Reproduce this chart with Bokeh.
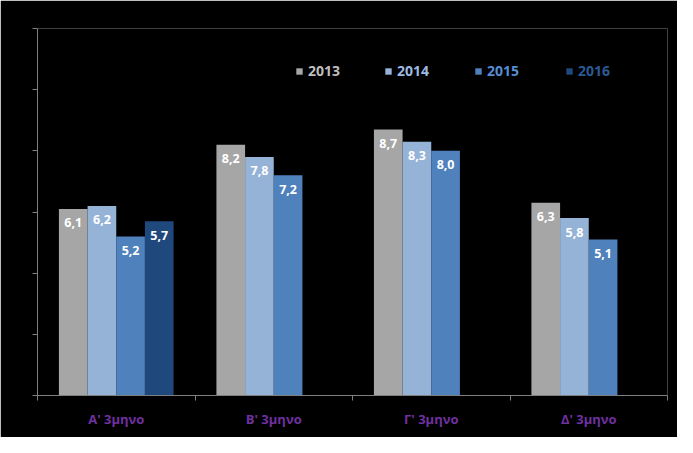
from bokeh.plotting import figure
from bokeh.models import (ColumnDataSource, Range1d, FixedTicker, LabelSet,
                          Legend, LegendItem, LinearAxis)
from bokeh.core.properties import value
from bokeh.transform import dodge
from bokeh.embed import file_html
from bokeh.resources import INLINE

# ---- data ----
categories = ["Α' 3μηνο", "Β' 3μηνο", "Γ' 3μηνο", "Δ' 3μηνο"]
years = ["2013", "2014", "2015", "2016"]
v2013 = [6.1, 8.2, 8.7, 6.3]
v2014 = [6.2, 7.8, 8.3, 5.8]
v2015 = [5.2, 7.2, 8.0, 5.1]
v2016 = [5.7]          # only first quarter available
y_ticks = [0, 2, 4, 6, 8, 10, 12]

bar_colors = ["#a6a6a6", "#95b3d7", "#4f81bd", "#1f497d"]
legend_text_colors = ["#bfbfbf", "#9cbbe0", "#558ed5", "#2b5a94"]
FONT = "Open Sans"

p = figure(width=677, height=437, output_backend="svg", toolbar_location=None,
           x_range=Range1d(0, 4), y_range=Range1d(0, 12),
           background_fill_color="black", border_fill_color="black",
           outline_line_color=None,
           min_border_left=37, min_border_right=10, min_border_top=28,
           min_border_bottom=42, x_axis_type=None, y_axis_type=None)

# x axis: labels at centres, tick marks at category boundaries
centers = [i + 0.5 for i in range(len(categories))]
xax = LinearAxis(ticker=FixedTicker(ticks=centers,
                                    minor_ticks=list(range(len(categories) + 1))))
xax.major_label_overrides = {c: lab for c, lab in zip(centers, categories)}
xax.major_tick_line_color = None
xax.major_tick_out = 0
xax.major_tick_in = 0
xax.minor_tick_line_color = "#7f7f7f"
xax.minor_tick_out = 5
xax.minor_tick_in = 0
xax.axis_line_color = "#7f7f7f"
xax.major_label_standoff = 9
xax.major_label_text_color = "#7030a0"
xax.major_label_text_font = FONT
xax.major_label_text_font_style = "bold"
xax.major_label_text_font_size = "13px"
p.add_layout(xax, "below")

yax = LinearAxis(ticker=FixedTicker(ticks=y_ticks, minor_ticks=[]))
yax.major_label_text_color = None
yax.major_label_text_font_size = "1px"
yax.major_label_standoff = 0
yax.major_tick_line_color = "#7f7f7f"
yax.major_tick_out = 5
yax.major_tick_in = 0
yax.axis_line_color = "#7f7f7f"
p.add_layout(yax, "left")

p.ygrid.ticker = FixedTicker(ticks=y_ticks)
p.ygrid.grid_line_color = "#7f7f7f"
p.ygrid.grid_line_width = 1
p.xgrid.grid_line_color = None

w = 0.182
offsets = [-1.5 * w, -0.5 * w, 0.5 * w, 1.5 * w]
series = [v2013, v2014, v2015, v2016]

renderers = []
for yr, vals, off, col in zip(years, series, offsets, bar_colors):
    src = ColumnDataSource(dict(
        x=centers[:len(vals)], v=vals,
        lab=[f"{v:.1f}".replace(".", ",") for v in vals]))
    r = p.vbar(x=dodge("x", off, range=p.x_range), top="v", width=w,
               source=src, fill_color=col, line_color=None)
    renderers.append(r)
    p.add_layout(LabelSet(x=dodge("x", off, range=p.x_range), y="v", text="lab",
                          source=src, text_align="center", text_baseline="middle",
                          y_offset=-14, text_color="white",
                          text_font=value(FONT), text_font_style="bold",
                          text_font_size="12.5px"))

# legend: one per series so each label gets its own colour
leg_x = [258, 347, 437, 528]
for yr, r, lx, tc in zip(years, renderers, leg_x, legend_text_colors):
    leg = Legend(items=[LegendItem(label=yr, renderers=[r])],
                 location=(lx, 315), orientation="horizontal",
                 background_fill_alpha=0, border_line_color=None,
                 padding=0, margin=0, spacing=0,
                 glyph_width=8, glyph_height=8, label_standoff=5,
                 label_height=16, label_text_color=tc, label_text_font=FONT,
                 label_text_font_style="bold", label_text_font_size="14px")
    p.add_layout(leg)

open("out.html", "w").write(file_html(p, INLINE))
